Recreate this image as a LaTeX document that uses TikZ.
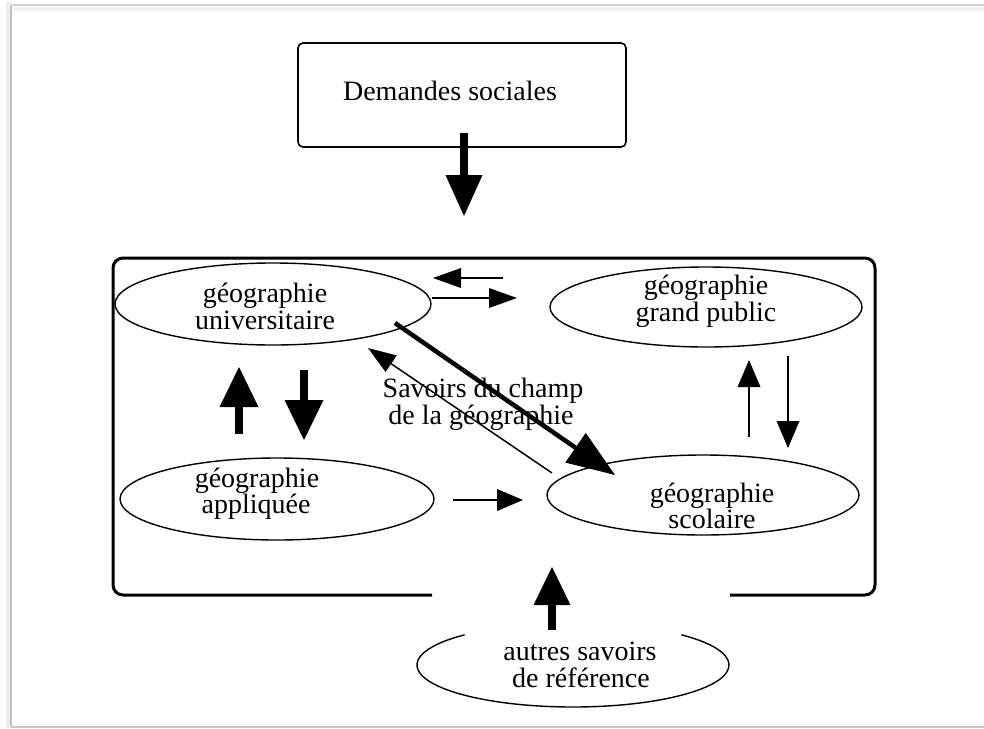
\documentclass[tikz,border=0pt]{standalone}
\usepackage{fontspec}
\setmainfont{Liberation Serif}
\usetikzlibrary{arrows.meta,shapes.geometric}
\begin{document}
\begin{tikzpicture}[x=1pt,y=-1pt,
  txt/.style={anchor=base, inner sep=0pt, font=\fontsize{28}{28}\selectfont},
  oval/.style={draw, ellipse, line width=1.4pt, inner sep=0pt},
  arrthin/.style={line width=1.5pt, -{Triangle[length=28pt,width=20pt,line width=0pt]}},
  arrvert/.style={line width=1.5pt, -{Triangle[length=27pt,width=23pt,line width=0pt]}},
  arrfat/.style={line width=8pt, -{Triangle[length=40pt,width=39pt,line width=0pt]}},
  arrdiag/.style={line width=4.5pt, -{Triangle[length=48pt,width=36pt,line width=0pt]}},
  frame/.style={line width=3pt, rounded corners=10pt}
]
\useasboundingbox (0,0) rectangle (984,728);
% page shadow frame
\draw[gray!15, line width=5pt] (8,1) -- (8,728);
\draw[gray!50, line width=1.3pt] (11,5) -- (11,726);
\draw[gray!35, line width=1.5pt] (11,5) -- (990,5);
\draw[gray!10, line width=4pt] (13,9) -- (990,9);
\draw[gray!45, line width=2pt] (11,726.5) -- (990,726.5);

% top box
\node[draw, rounded corners=5pt, line width=1.6pt, minimum width=328pt, minimum height=104pt, inner sep=0pt] (ds) at (462,95) {};
\node[txt] (dsT) at (450,100) {Demandes sociales};

% big frame with gap at the bottom
\draw[frame] (432,595) -- (113,595) -- (113,258) -- (875,258) -- (875,595) -- (730,595);

% ellipses
\node[oval, minimum width=316pt, minimum height=82pt] (uni) at (273,304) {};
\node[oval, minimum width=312pt, minimum height=80pt] (gp) at (706,307) {};
\node[oval, minimum width=314pt, minimum height=82pt] (app) at (277,499) {};
\node[oval, minimum width=312pt, minimum height=80pt] (sco) at (703,495) {};
\node[ellipse, minimum width=312pt, minimum height=84pt, inner sep=0pt] (aut) at (573,665) {};
\draw[line width=1.4pt] (aut.center) ++(-46:156 and 42) arc[start angle=-46, end angle=226, x radius=156, y radius=42];

% texts
\node[txt] (uniA) at (265,302) {géographie};
\node[txt] (uniB) at (265,329) {universitaire};
\node[txt] (gpA) at (706,294) {géographie};
\node[txt] (gpB) at (706,321) {grand public};
\node[txt] (appA) at (257,487) {géographie};
\node[txt] (appB) at (256,513) {appliquée};
\node[txt] (scoA) at (712,502) {géographie};
\node[txt] (scoB) at (712,528) {scolaire};
\node[txt] (autA) at (580,660) {autres savoirs};
\node[txt] (autB) at (581,687) {de référence};
\node[txt] (savA) at (483,397) {Savoirs du champ};
\node[txt] (savB) at (481,424) {de la géographie};

% arrow end points
\coordinate (dsS) at (464,133);   \coordinate (dsE) at (464,216);
\coordinate (gpuS) at (503,278);  \coordinate (gpuE) at (433,278);
\coordinate (ugpS) at (432,298);  \coordinate (ugpE) at (517,298);
\coordinate (auS) at (239,434);   \coordinate (auE) at (239,367);
\coordinate (uaS) at (304,370);   \coordinate (uaE) at (304,440);
\coordinate (usS) at (395,323);   \coordinate (usE) at (615,475);
\coordinate (suS) at (552,473);   \coordinate (suE) at (368,348);
\coordinate (asS) at (453,500);   \coordinate (asE) at (523,500);
\coordinate (sgS) at (749,437);   \coordinate (sgE) at (749,360);
\coordinate (gsS) at (788,356);   \coordinate (gsE) at (788,448);
\coordinate (rsS) at (552,630);   \coordinate (rsE) at (552,567);

% arrows
\draw[line width=8pt, -{Triangle[length=41pt,width=37pt,line width=0pt]}] (dsS) -- (dsE);
\draw[arrthin] (gpuS) -- (gpuE);
\draw[arrthin] (ugpS) -- (ugpE);
\draw[arrfat] (auS) -- (auE);
\draw[arrfat] (uaS) -- (uaE);
\draw[arrthin] (suS) -- (suE);
\draw[arrdiag] (usS) -- (usE);
\draw[line width=1.5pt, -{Triangle[length=26pt,width=22pt,line width=0pt]}] (asS) -- (asE);
\draw[arrvert] (sgS) -- (sgE);
\draw[arrvert] (gsS) -- (gsE);
\draw[line width=8pt, -{Triangle[length=38pt,width=37pt,line width=0pt]}] (rsS) -- (rsE);
\end{tikzpicture}
\end{document}
